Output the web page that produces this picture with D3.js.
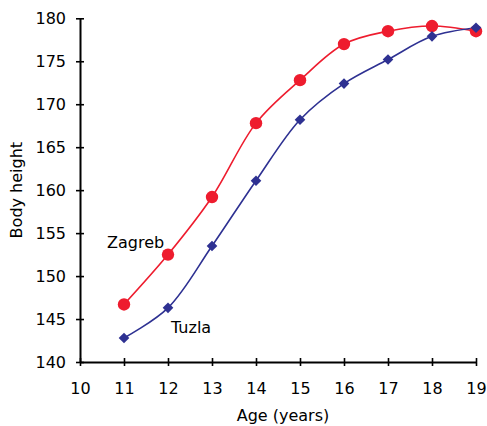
<!DOCTYPE html>
<html>
<head>
<meta charset="utf-8">
<script src="https://cdn.jsdelivr.net/npm/d3@7"></script>
<style>
  html, body { margin: 0; padding: 0; background: #fff; }
  svg text { font-family: "DejaVu Sans", Verdana, sans-serif; fill: #000; }
</style>
</head>
<body>
<svg id="chart" width="487" height="426"></svg>
<script>
// Mean body height by age for two cities
const ages = [11, 12, 13, 14, 15, 16, 17, 18, 19];
const zagreb = [146.7, 152.5, 159.2, 167.8, 172.8, 177.0, 178.5, 179.1, 178.5];
const tuzla = [142.8, 146.3, 153.5, 161.1, 168.2, 172.4, 175.2, 177.9, 178.9];
const xTicks = [10, 11, 12, 13, 14, 15, 16, 17, 18, 19];
const yTicks = [140, 145, 150, 155, 160, 165, 170, 175, 180];
const seriesNames = ["Zagreb", "Tuzla"];
const seriesColors = ["#ee1c2e", "#2e3192"];

const svg = d3.select("#chart");
const x = d3.scaleLinear().domain([10, 19]).range([80, 476]);
const y = d3.scaleLinear().domain([140, 180]).range([362, 18.3]);

const fontSize = 16;

// Axes with ticks that cross the axis line
const xAxis = svg.append("g").attr("transform", `translate(0,${y(140)})`)
  .call(d3.axisBottom(x).tickValues(xTicks).tickSize(0).tickPadding(21).tickFormat(d3.format("d")));
xAxis.select(".domain").attr("stroke", "#000").attr("stroke-width", 2);
xAxis.selectAll(".tick line").attr("y1", -4).attr("y2", 4).attr("stroke", "#000").attr("stroke-width", 1.6);
xAxis.selectAll(".tick text").attr("font-size", fontSize).attr("font-family", "DejaVu Sans");

const yAxis = svg.append("g").attr("transform", `translate(${x(10)},0)`)
  .call(d3.axisLeft(y).tickValues(yTicks).tickSize(0).tickPadding(14).tickFormat(d3.format("d")));
yAxis.select(".domain").attr("stroke", "#000").attr("stroke-width", 2);
yAxis.selectAll(".tick line").attr("x1", -4).attr("x2", 4).attr("stroke", "#000").attr("stroke-width", 1.6);
yAxis.selectAll(".tick text").attr("font-size", fontSize).attr("font-family", "DejaVu Sans");

// Axis titles
svg.append("text").attr("x", 283).attr("y", 421).attr("text-anchor", "middle")
  .attr("font-size", fontSize).text("Age (years)");
svg.append("text").attr("transform", `translate(22,${y(160)}) rotate(-90)`)
  .attr("text-anchor", "middle").attr("font-size", fontSize).text("Body height");

// Smoothed lines
const line = d3.line().x(d => x(d[0])).y(d => y(d[1])).curve(d3.curveCatmullRom.alpha(0.5));
const series = [zagreb, tuzla];
series.forEach((vals, i) => {
  const pts = ages.map((a, j) => [a, vals[j]]);
  svg.append("path").datum(pts).attr("d", line)
    .attr("fill", "none").attr("stroke", seriesColors[i]).attr("stroke-width", 1.6);
});

// Markers: circles for Zagreb, diamonds for Tuzla
svg.append("g").selectAll("circle").data(ages.map((a, j) => [a, zagreb[j]])).join("circle")
  .attr("cx", d => x(d[0])).attr("cy", d => y(d[1])).attr("r", 6.2)
  .attr("fill", seriesColors[0]);

const diamond = d3.symbol().type(d3.symbolDiamond2).size(72);
svg.append("g").selectAll("path").data(ages.map((a, j) => [a, tuzla[j]])).join("path")
  .attr("transform", d => `translate(${x(d[0])},${y(d[1])})`)
  .attr("d", diamond).attr("fill", seriesColors[1]);

// Series labels
svg.append("text").attr("x", 107).attr("y", 248).attr("font-size", fontSize).text(seriesNames[0]);
svg.append("text").attr("x", 171).attr("y", 333).attr("font-size", fontSize).text(seriesNames[1]);
</script>
</body>
</html>
